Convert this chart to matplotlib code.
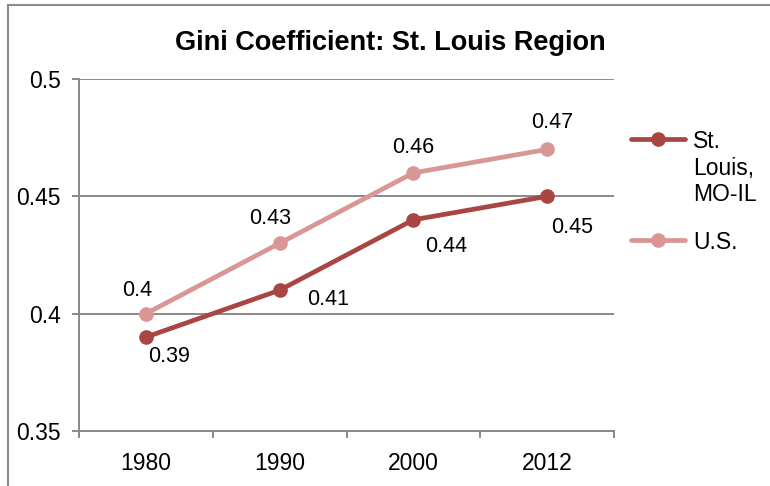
import matplotlib
matplotlib.use("Agg")
from matplotlib import pyplot as plt
from matplotlib.patches import Rectangle
from matplotlib.lines import Line2D
import numpy as np

plt.rcParams['font.family'] = ['Liberation Sans', 'DejaVu Sans']

years = ["1980", "1990", "2000", "2012"]
stl = [0.39, 0.41, 0.44, 0.45]
us = [0.40, 0.43, 0.46, 0.47]
stl_name = "St.\nLouis,\nMO-IL"
us_name = "U.S."

dark = "#A94543"
light = "#D99694"
grey = "#898989"

W, H = 770, 486
fig = plt.figure(figsize=(7.7, 4.86), dpi=100)
ax = fig.add_axes([79/W, 1-431/H, (614-79)/W, (431-79)/H])

x = np.arange(len(years))
ax.plot(x, stl, color=dark, lw=3.4, marker='o', ms=9.5, zorder=3)
ax.plot(x, us, color=light, lw=3.4, marker='o', ms=9.5, zorder=3)

# label offsets in points
us_off = [(-6, 16.5), (-6.5, 18), (0, 18), (3.6, 19.4)]
stl_off = [(16.6, -13.7), (34.6, -6.5), (23.8, -19.4), (18, -22.3)]
for i in range(len(years)):
    ax.annotate(f"{us[i]:g}", (x[i], us[i]), xytext=us_off[i], textcoords='offset points',
                ha='center', va='center', fontsize=15.5)
    ax.annotate(f"{stl[i]:g}", (x[i], stl[i]), xytext=stl_off[i], textcoords='offset points',
                ha='center', va='center', fontsize=15.5)

ax.set_ylim(0.35, 0.5)
ax.set_yticks([0.35, 0.4, 0.45, 0.5])
ax.set_yticklabels(["0.35", "0.4", "0.45", "0.5"])
ax.set_xlim(-0.5, len(years)-0.5)
ax.set_xticks(x)
ax.set_xticklabels(years)
ax.set_xticks(np.arange(-0.5, len(years)), minor=True)
ax.tick_params(axis='x', which='major', length=0, pad=15, labelsize=16.5)
ax.tick_params(axis='x', which='minor', length=5, color=grey, width=1.4)
ax.tick_params(axis='y', length=5, color=grey, width=1.4, pad=8, labelsize=16.5)
ax.grid(True, axis='y', color=grey, lw=1.4)
ax.set_axisbelow(True)
for s in ['top', 'right']:
    ax.spines[s].set_visible(False)
for s in ['left', 'bottom']:
    ax.spines[s].set_color(grey)
    ax.spines[s].set_linewidth(1.4)

fig.text(390/W, 1-43/H, "Gini Coefficient: St. Louis Region", ha='center', va='center',
         fontsize=19.5, fontweight='bold')

# legend, first text line level with the key
for name, col, ky in [(stl_name, dark, 139), (us_name, light, 240)]:
    fig.add_artist(Line2D([631/W, 685/W], [1-ky/H, 1-ky/H], transform=fig.transFigure,
                          color=col, lw=3.4, solid_capstyle='round'))
    fig.add_artist(Line2D([658/W], [1-ky/H], transform=fig.transFigure,
                          color=col, marker='o', ms=9.5, lw=0))
    fig.text(693/W, 1-(ky-9)/H, name, ha='left', va='top', fontsize=16.5,
             linespacing=1.2)

fig.add_artist(Rectangle((8/W, -0.1), 1.2, 1.1-5/H, transform=fig.transFigure,
                         fill=False, edgecolor='#8c8c8c', lw=1.5))

fig.savefig("out.png", dpi=100)
